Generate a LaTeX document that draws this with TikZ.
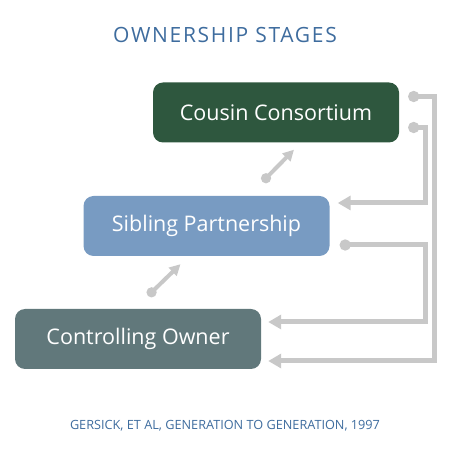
\documentclass[tikz,border=0pt]{standalone}
\usepackage{fontspec}
\setmainfont{Open Sans}
\newfontfamily\titlefont[LetterSpace=8]{Open Sans}
\usetikzlibrary{arrows.meta,positioning}
\definecolor{cousingreen}{HTML}{2E573E}
\definecolor{siblingblue}{HTML}{789BC2}
\definecolor{ownerslate}{HTML}{61787B}
\definecolor{titleblue}{HTML}{3E6C9E}
\definecolor{linkgray}{HTML}{C8C8C8}
\tikzset{
  stage/.style={rounded corners=10pt, minimum width=246pt, minimum height=60pt,
    text=white, font=\fontsize{21.5}{25}\selectfont},
  feedback/.style={draw=linkgray, line width=5pt,
    {Circle[length=11pt]}-{Triangle[length=13pt,width=14pt]}},
  advance/.style={draw=linkgray, line width=4pt,
    {Circle[length=10pt]}-{Triangle[length=11pt,width=11pt]}}}

\begin{document}
\begin{tikzpicture}[x=1pt,y=1pt]
  \useasboundingbox (0,0) rectangle (450,460);
  \node[text=titleblue, font=\titlefont\fontsize{21}{25}\selectfont] (title) at (225,425) {OWNERSHIP STAGES};
  \node[stage, fill=cousingreen] (co) at (276,347.5) {Cousin Consortium};
  \node[stage, fill=siblingblue] (sp) at (206.5,234) {Sibling Partnership};
  \node[stage, fill=ownerslate]  (cw) at (138,121) {Controlling Owner};
  \node[text=titleblue, font=\fontsize{12.7}{15}\selectfont] (source) at (225,34)
    {GERSICK, ET AL, GENERATION TO GENERATION, 1997};
  % stage to stage
  \draw[advance] ([xshift=56pt,yshift=14pt]sp.north) -- ([xshift=18pt,yshift=-7pt]co.south);
  \draw[advance] ([xshift=10pt,yshift=13pt]cw.north) -- ([xshift=-26pt,yshift=-8pt]sp.south);
  % back to earlier stages
  \draw[feedback] ([xshift=9pt,yshift=16pt]co.east) -- ++(26,0) |- ([xshift=7pt,yshift=-22pt]cw.east);
  \draw[feedback] ([xshift=9pt,yshift=-15pt]co.east) -- ++(17,0) |- ([xshift=8pt,yshift=23pt]sp.east);
  \draw[feedback] ([xshift=10pt,yshift=-19pt]sp.east) -- ++(86,0) |- ([xshift=7pt,yshift=17pt]cw.east);
\end{tikzpicture}
\end{document}
